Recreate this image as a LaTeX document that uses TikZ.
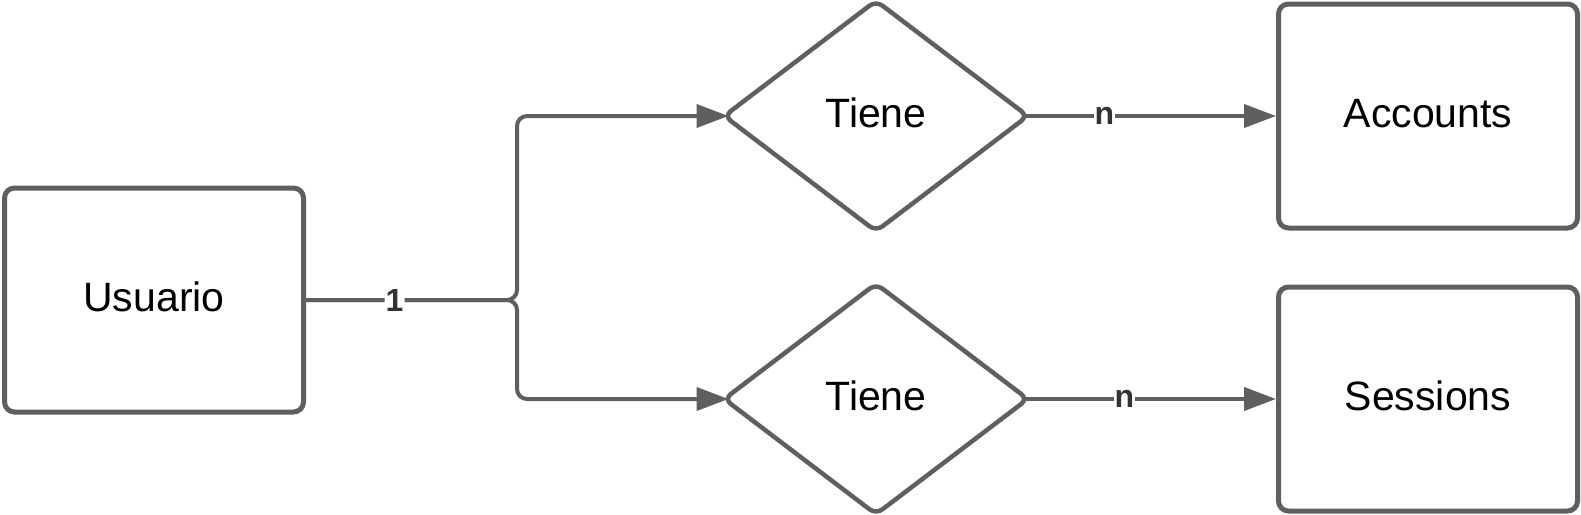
\documentclass[tikz,border=0pt]{standalone}
\usepackage{fontspec}
\setmainfont{Liberation Sans}
\usetikzlibrary{arrows.meta, shapes.geometric}
\usepackage{xcolor}
\definecolor{linegray}{HTML}{5F5F5F}
\definecolor{labelgray}{HTML}{333333}
\tikzset{
  entity/.style={draw=linegray, line width=5pt, rounded corners=10pt, minimum width=299pt, minimum height=224pt, inner sep=0pt, text height=30pt, text depth=8pt, font=\fontsize{41}{48}\selectfont},
  relation/.style={diamond, draw=linegray, line width=4.5pt, rounded corners=8pt, minimum width=301pt, minimum height=228pt, inner sep=0pt, outer sep=-3pt, text height=30pt, text depth=8pt, font=\fontsize{41}{48}\selectfont},
  link/.style={draw=linegray, line width=4pt, -{Triangle[length=32pt, width=23pt]}},
  card/.style={fill=white, inner sep=1pt, text=labelgray, font=\fontsize{32}{36}\selectfont\bfseries}
}
\begin{document}
\begin{tikzpicture}[x=1pt, y=-1pt]
        \useasboundingbox (0, 0) rectangle (1581, 514);
        
        \node[entity] (usuario) at (154, 300) {Usuario};
        \node[relation] (tieneA) at (876, 116) {Tiene};
        \node[relation] (tieneS) at (876, 399) {Tiene};
        \node[entity] (accounts) at (1428, 116) {Accounts};
        \node[entity] (sessions) at (1428, 399) {Sessions};
        
        \coordinate (fork) at (517, 300);
        
        \draw[link, rounded corners=10pt] (usuario.east) -- (fork) |- (tieneA.west);
        \draw[link, rounded corners=10pt] (usuario.east) -- node[card, pos=0.42] (one) {1} (fork) |- (tieneS.west);
        
        \draw[link] (tieneA.east) -- node[card, pos=0.32] (nA) {n} (accounts.west);
        \draw[link] (tieneS.east) -- node[card, pos=0.40] (nS) {n} (sessions.west);
        
      \end{tikzpicture}
\end{document}
